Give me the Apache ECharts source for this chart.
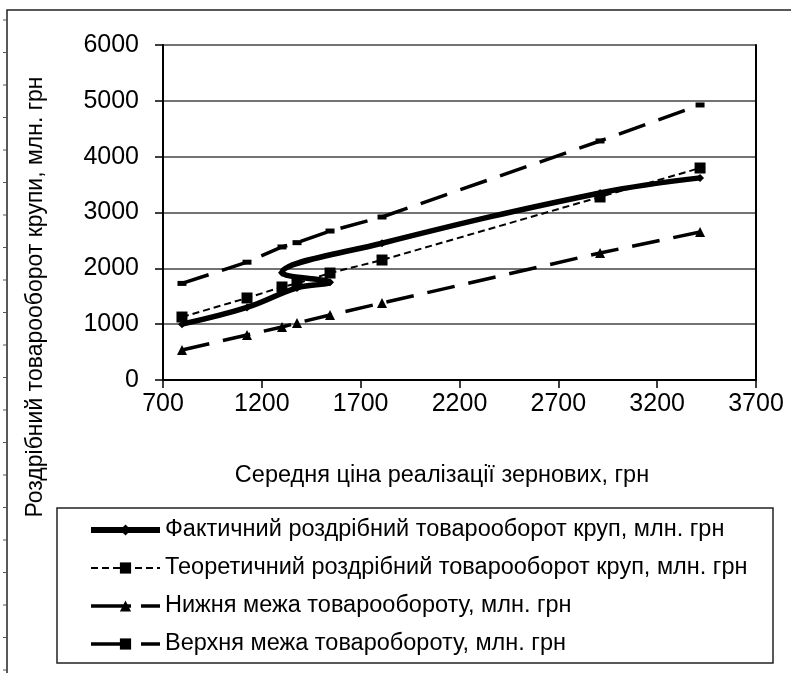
<!DOCTYPE html>
<html>
<head>
<meta charset="utf-8">
<script src="https://cdn.jsdelivr.net/npm/echarts@6/dist/echarts.min.js"></script>
<style>
  html, body { margin: 0; padding: 0; background: #fff; }
  #chart { width: 791px; height: 673px; }
</style>
</head>
<body>
<div id="chart"></div>
<script>
  // середня ціна (порядок років) і фактичний товарооборот
  const priceByYear = [796, 1125, 1378, 1545, 1302, 1808, 2911, 3417]
  const actual = [1000, 1300, 1650, 1750, 1920, 2450, 3350, 3620]
  // ціна, відсортована, для теоретичної лінії та меж
  const priceSorted = [796, 1125, 1302, 1378, 1545, 1808, 2911, 3417]
  const theoretical = [1128, 1469, 1666, 1730, 1916, 2149, 3278, 3797]
  const lowerBound = [537, 806, 949, 1021, 1164, 1379, 2275, 2651]
  const upperBound = [1730, 2110, 2383, 2460, 2668, 2919, 4281, 4926]

  const names = [
    'Фактичний роздрібний товарооборот круп, млн. грн',
    'Теоретичний роздрібний товарооборот круп, млн. грн',
    'Нижня межа товарообороту, млн. грн',
    'Верхня межа товаробороту, млн. грн'
  ]

  const font = '"Liberation Sans", Arial, sans-serif'
  const longDash = [28, 14]
  const pair = (xs, ys) => xs.map((x, i) => [x, ys[i]])

  // дрібні позначки лінійки зліва
  const rulerMarks = []
  for (let y = 20; y < 673; y += 32.5) {
    rulerMarks.push({
      type: 'line',
      shape: {x1: 3, y1: y, x2: 7, y2: y},
      style: {stroke: '#555', lineWidth: 1}
    })
  }

  const chart = echarts.init(document.getElementById('chart'))

  chart.setOption({
    animation: false,
    backgroundColor: '#fff',
    textStyle: {fontFamily: font, color: '#000'},
    grid: {left: 163, right: 35, top: 45, bottom: 293},
    xAxis: {
      type: 'value',
      min: 700,
      max: 3700,
      interval: 500,
      axisLine: {lineStyle: {color: '#000', width: 2}},
      axisTick: {show: true, length: 8, lineStyle: {color: '#000', width: 1.5}},
      axisLabel: {fontSize: 25, color: '#000', margin: 12, fontFamily: font, formatter: v => String(v)},
      splitLine: {show: false}
    },
    yAxis: [{
      type: 'value',
      min: 0,
      max: 6000,
      interval: 1000,
      axisLine: {show: true, lineStyle: {color: '#000', width: 2}},
      axisTick: {show: true, length: 8, lineStyle: {color: '#000', width: 1.5}},
      axisLabel: {fontSize: 25, color: '#000', margin: 24, fontFamily: font, formatter: v => String(v)},
      splitLine: {lineStyle: {color: '#444', width: 1.5}}
    }, {
      type: 'value',
      position: 'right',
      min: 0,
      max: 6000,
      interval: 1000,
      axisLine: {show: true, lineStyle: {color: '#000', width: 2}},
      axisTick: {show: false},
      axisLabel: {show: false},
      splitLine: {show: false}
    }],
    legend: {
      orient: 'vertical',
      left: 83,
      top: 513,
      padding: 5,
      itemWidth: 69,
      itemHeight: 14,
      itemGap: 14,
      data: [
        {name: names[0], lineStyle: {width: 6}},
        {name: names[1]},
        {name: names[2], lineStyle: {width: 3.5, type: [40, 10]}},
        {name: names[3], lineStyle: {width: 3.5, type: [40, 10]}}
      ],
      textStyle: {fontSize: 23.5, lineHeight: 24, color: '#000', fontFamily: font}
    },
    graphic: [
      {
        type: 'rect',
        shape: {x: 57, y: 508, width: 716, height: 155},
        style: {fill: 'none', stroke: '#222', lineWidth: 1.5}
      },
      {
        type: 'text',
        x: 36,
        y: 297,
        rotation: Math.PI / 2,
        style: {
          text: 'Роздрібний товарооборот крупи, млн. грн',
          font: '23px ' + font,
          fill: '#000',
          textAlign: 'center',
          textVerticalAlign: 'middle'
        }
      },
      {
        type: 'text',
        x: 442,
        y: 476,
        style: {
          text: 'Середня ціна реалізації зернових, грн',
          font: '23.5px ' + font,
          fill: '#000',
          textAlign: 'center',
          textVerticalAlign: 'middle'
        }
      },
      // рамка сторінки
      {
        type: 'polyline',
        shape: {points: [[7, 673], [7, 10], [791, 10]]},
        style: {stroke: '#222', lineWidth: 1.5, fill: 'none'}
      }
    ].concat(rulerMarks),
    series: [
      {
        name: names[2],
        type: 'line',
        data: pair(priceSorted, lowerBound),
        symbol: 'triangle',
        symbolSize: 10,
        itemStyle: {color: '#000'},
        lineStyle: {color: '#000', width: 3.5, type: longDash},
        z: 2
      },
      {
        name: names[3],
        type: 'line',
        data: pair(priceSorted, upperBound),
        symbol: 'rect',
        symbolSize: [9, 5],
        itemStyle: {color: '#000'},
        lineStyle: {color: '#000', width: 3.5, type: longDash},
        z: 2
      },
      {
        name: names[1],
        type: 'line',
        data: pair(priceSorted, theoretical),
        symbol: 'rect',
        symbolSize: 11,
        itemStyle: {color: '#000'},
        lineStyle: {color: '#000', width: 2, type: [7, 4]},
        z: 3
      },
      {
        name: names[0],
        type: 'line',
        data: pair(priceByYear, actual),
        smooth: 0.4,
        symbol: 'diamond',
        symbolSize: 8,
        itemStyle: {color: '#000'},
        lineStyle: {color: '#000', width: 5.5},
        z: 4
      }
    ]
  })
</script>
</body>
</html>
